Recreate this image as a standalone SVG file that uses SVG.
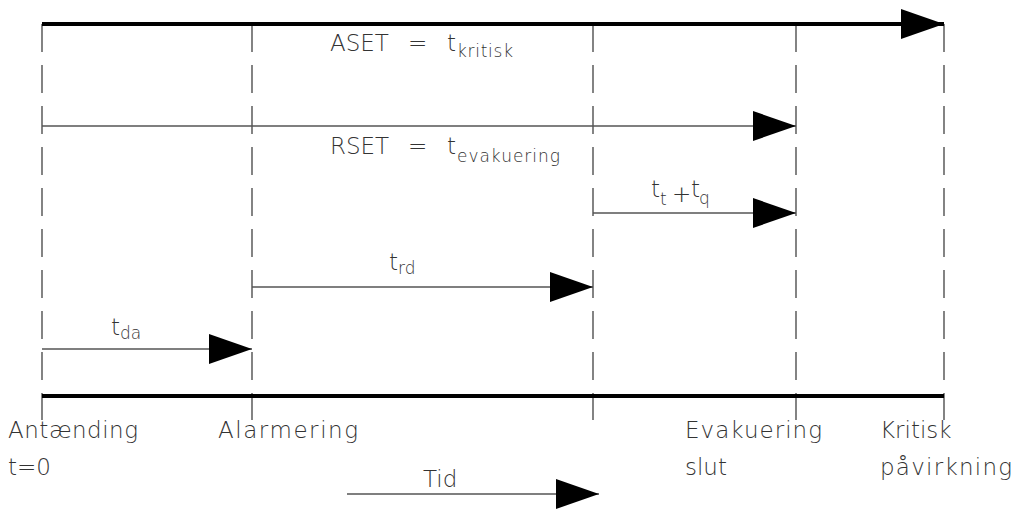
<svg xmlns="http://www.w3.org/2000/svg" width="1016" height="509" viewBox="0 0 1016 509">
<style>
.dash{stroke:#333;stroke-width:1.2;stroke-dasharray:28 13;fill:none}
.thick{stroke:#000;stroke-width:4;fill:none}
.thin{stroke:#555;stroke-width:1.3;fill:none}
text{font-family:"DejaVu Sans","Liberation Sans",sans-serif;font-weight:200;fill:#333}
.m{font-size:23px}
.s{font-size:17px}
</style>
<defs>
<marker id="ah" markerUnits="userSpaceOnUse" markerWidth="44" markerHeight="31" refX="43" refY="15" orient="auto" overflow="visible">
<path d="M0,0 L43,15 L0,30 Z" fill="#000"/>
</marker>
</defs>
<rect width="1016" height="509" fill="#fff"/>
<g id="event-antaending">
<line class="dash" x1="42" y1="24" x2="42" y2="420"/>
<text class="m" x="8" y="438" textLength="130" lengthAdjust="spacing">Antænding</text>
<text class="m" x="8" y="475">t=0</text>
</g>
<g id="event-alarmering">
<line class="dash" x1="252" y1="24" x2="252" y2="420"/>
<text class="m" x="218" y="438" textLength="140" lengthAdjust="spacing">Alarmering</text>
</g>
<g id="event-start-evakuering">
<line class="dash" x1="593" y1="24" x2="593" y2="420"/>
</g>
<g id="event-evakuering-slut">
<line class="dash" x1="796" y1="24" x2="796" y2="420"/>
<text class="m" x="685" y="438" textLength="137" lengthAdjust="spacing">Evakuering</text>
<text class="m" x="685" y="475">slut</text>
</g>
<g id="event-kritisk">
<line class="dash" x1="944" y1="24" x2="944" y2="420"/>
<text class="m" x="880" y="438">Kritisk</text>
<text class="m" x="880" y="475" textLength="132" lengthAdjust="spacing">påvirkning</text>
</g>
<g id="connectors">
<line class="thick" x1="42" y1="24" x2="944" y2="24" marker-end="url(#ah)"/>
<line class="thick" x1="42" y1="396" x2="944" y2="396"/>
<line class="thin" x1="42" y1="126" x2="796" y2="126" marker-end="url(#ah)"/>
<line class="thin" x1="593" y1="213" x2="796" y2="213" marker-end="url(#ah)"/>
<line class="thin" x1="252" y1="287" x2="593" y2="287" marker-end="url(#ah)"/>
<line class="thin" x1="42" y1="349" x2="252" y2="349" marker-end="url(#ah)"/>
<line class="thin" x1="347" y1="494" x2="599" y2="494" marker-end="url(#ah)"/>
</g>
<g id="labels">
<text class="m" x="330" y="51">ASET</text>
<text class="m" x="408" y="51">=</text>
<text class="m" x="447" y="51">t</text>
<text class="s" x="457" y="57" textLength="56" lengthAdjust="spacing">kritisk</text>
<text class="m" x="330" y="154">RSET</text>
<text class="m" x="408" y="154">=</text>
<text class="m" x="447" y="154">t</text>
<text class="s" x="457" y="162" textLength="103" lengthAdjust="spacing">evakuering</text>
<text class="m" x="651" y="197">t</text>
<text class="s" x="660" y="205">t</text>
<text class="m" x="672" y="202">+</text>
<text class="m" x="691" y="197">t</text>
<text class="s" x="699" y="204">q</text>
<text class="m" x="389" y="270">t</text>
<text class="s" x="398" y="274">rd</text>
<text class="m" x="111" y="335">t</text>
<text class="s" x="120" y="339">da</text>
<text class="m" x="423" y="487">Tid</text>
</g>
</svg>
